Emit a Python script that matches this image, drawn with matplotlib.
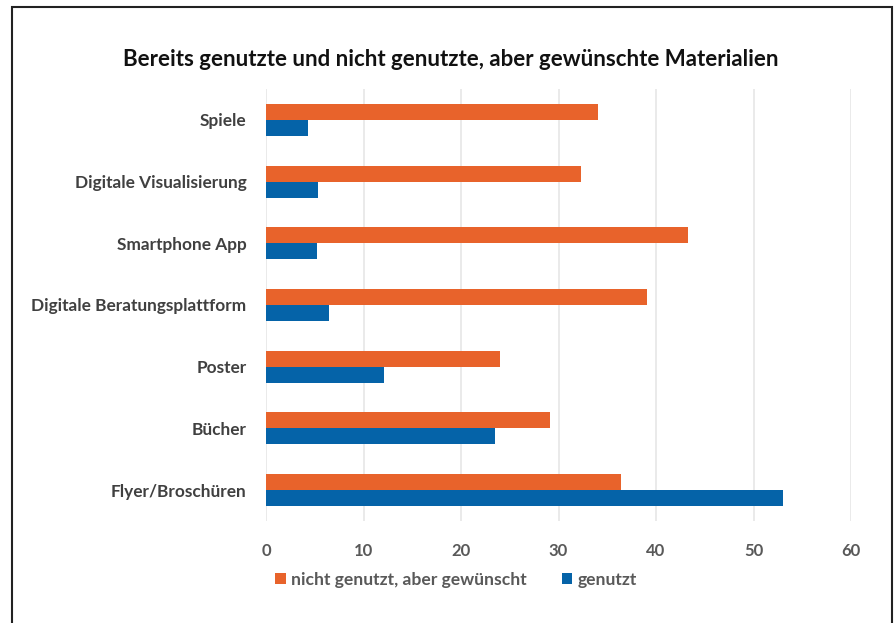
import matplotlib.pyplot as plt
import numpy as np
from matplotlib.patches import Rectangle

kategorien = ['Spiele', 'Digitale Visualisierung', 'Smartphone App',
              'Digitale Beratungsplattform', 'Poster', 'Bücher', 'Flyer/Broschüren']
gewuenscht = [34.0, 32.3, 43.3, 39.1, 24.0, 29.1, 36.4]  # nicht genutzt, aber gewünscht
genutzt = [4.3, 5.3, 5.2, 6.5, 12.1, 23.5, 53.0]
x_ticks = [0, 10, 20, 30, 40, 50, 60]

orange = '#E8632B'
blau = '#0563A8'

plt.rcParams['font.family'] = ['Lato', 'DejaVu Sans']

fig = plt.figure(figsize=(8.96, 6.23), dpi=100)
ax = fig.add_axes([266 / 896, 1 - 521 / 623, (851 - 266) / 896, (521 - 89) / 623])

y = np.arange(len(kategorien))
h = 0.26
ax.barh(y - h / 2, gewuenscht, height=h, color=orange, label='nicht genutzt, aber gewünscht', zorder=3)
ax.barh(y + h / 2, genutzt, height=h, color=blau, label='genutzt', zorder=3)

ax.set_ylim(len(kategorien) - 0.5, -0.5)
ax.set_xlim(0, 60)
ax.set_yticks(y)
ax.set_yticklabels(kategorien, fontsize=12.4, color='#404040', fontweight='bold')
ax.set_xticks(x_ticks)
ax.set_xticklabels([str(t) for t in x_ticks], fontsize=12, color='#595959', fontweight='bold')
ax.tick_params(axis='y', length=0, pad=14)
ax.tick_params(axis='x', length=0, pad=16)
ax.grid(axis='x', color='#E6E6E6', linewidth=1.2, zorder=0)
for s in ax.spines.values():
    s.set_visible(False)

fig.text(451 / 896, 1 - 60 / 623, 'Bereits genutzte und nicht genutzte, aber gewünschte Materialien',
         ha='center', va='center', fontsize=16, fontweight='bold', color='#111111')

fig.legend(loc='center', bbox_to_anchor=(456 / 896, 1 - 580 / 623), ncol=2, frameon=False,
           handlelength=0.6, handleheight=0.6, handletextpad=0.3, columnspacing=2.0,
           labelcolor='#595959', prop={'weight': 'bold', 'size': 12.6})

fig.patches.append(Rectangle((12 / 896, -0.01), (892 - 12) / 896, 1 - 7 / 623 + 0.01,
                             transform=fig.transFigure, fill=False, edgecolor='#222222', linewidth=1.5))

fig.savefig('out.png', dpi=100)
